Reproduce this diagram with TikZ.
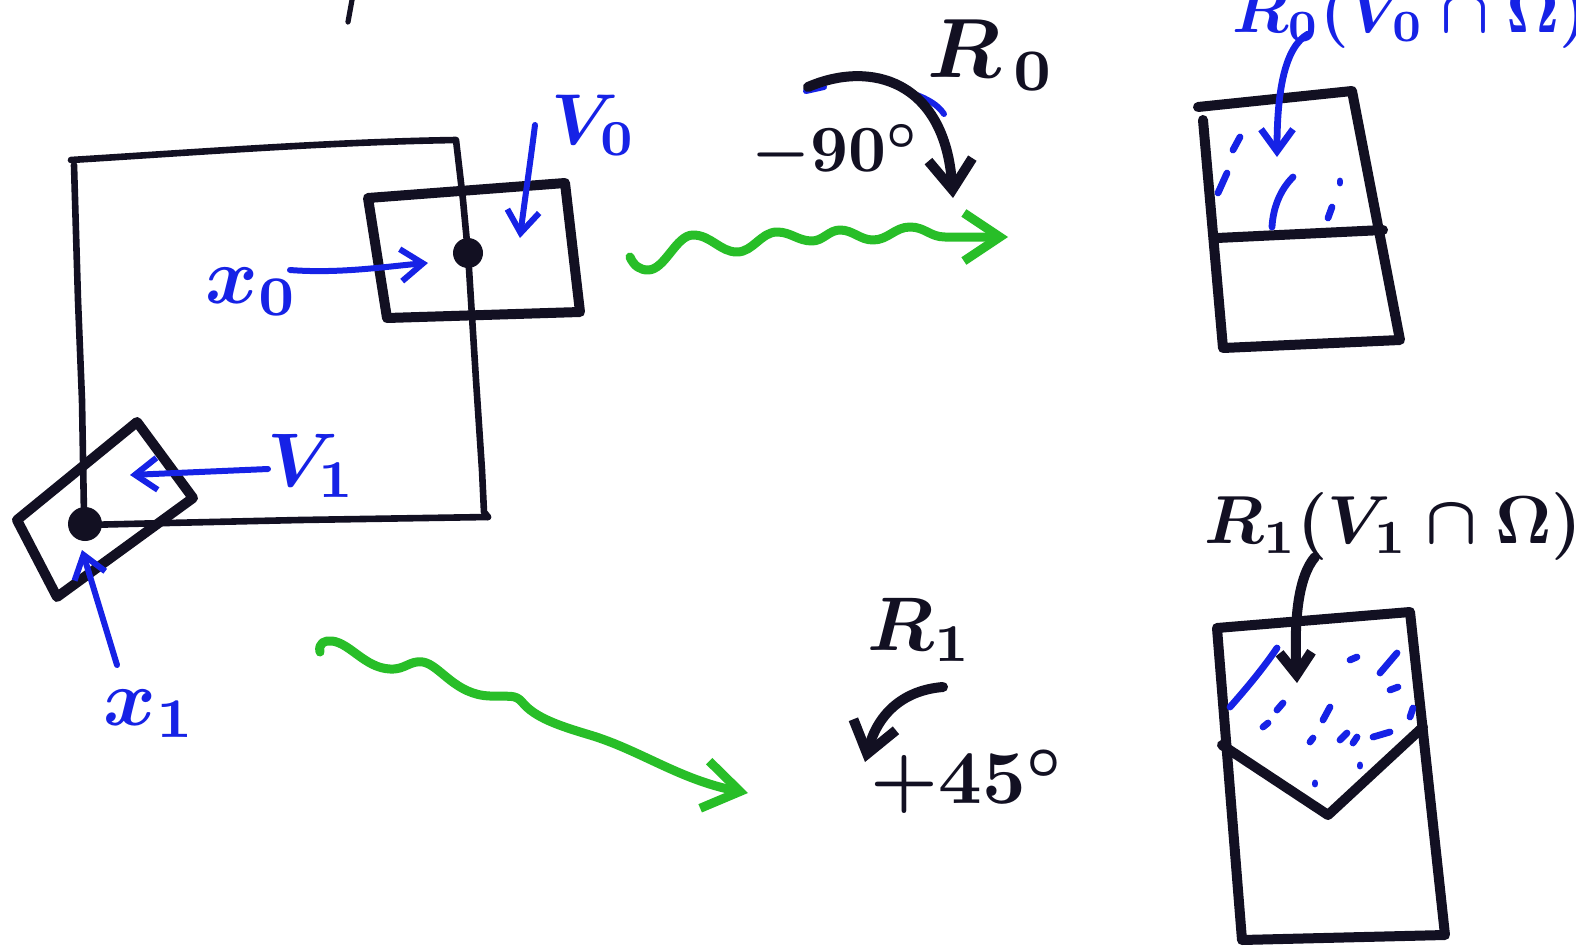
\documentclass[tikz,border=0pt]{standalone}
\usepackage{graphicx}
\usetikzlibrary{arrows.meta}
\definecolor{ink}{RGB}{18,16,34}
\definecolor{pen}{RGB}{22,34,230}
\definecolor{marker}{RGB}{40,190,40}
% hand lettering: bold math set at 10pt and enlarged
\newcommand\handmath[2]{\scalebox{#1}{\boldmath$#2$}}
\begin{document}
\begin{tikzpicture}[x=0.5pt,y=-0.5pt,line cap=round,line join=round,
  outline/.style={draw=ink,line width=3.3pt},
  boxpen/.style={draw=ink,line width=5pt},
  bluepen/.style={draw=pen,line width=3pt},
  greenpen/.style={draw=marker,line width=4.5pt},
  blacktip/.style={-{Straight Barb[length=15pt,width=22pt]}},
  bluetip/.style={-{Straight Barb[length=11pt,width=16pt]}},
  greentip/.style={-{Straight Barb[length=18pt,width=24pt]}},
  dot/.style={circle,fill=ink,inner sep=0pt},
  bluelab/.style={inner sep=0pt,text=pen},
  blacklab/.style={inner sep=0pt,text=ink},
  speck/.style={draw=pen,line width=3.4pt}]
\useasboundingbox (0,0) rectangle (1576,948);
\fill[white] (0,0) rectangle (1576,948);
\clip (0,0) rectangle (1576,948);

% stroke of a word cut off at the top edge
\draw[ink,line width=2.6pt] (352,0) -- (348,22);

% ---------------- domain Omega with the two windows ----------------
\draw[outline] (71,160) .. controls (200,152) and (330,142) .. (456,140)
  -- (463,200) -- (468,253) -- (476,380) -- (482,470) -- (484,512) -- (488,517);
\draw[outline] (488,517) -- (300,520) -- (167,523) -- (85,525);
\draw[outline] (74,165) -- (78,300) -- (82,400) -- (84,515);

% window V0
\draw[boxpen] (368,198) -- (565,183) -- (580,312) -- (387,318) -- cycle;
\node[dot,minimum size=15pt] (p0) at (468,253) {};

% window V1 (tilted)
\draw[boxpen] (17,520) -- (137,422) -- (193,498) -- (57,597) -- cycle;
\node[dot,minimum size=17pt] (p1) at (85,524) {};

% labels and pointers
\node[bluelab] (x0lab) at (252,292) {\handmath{4}{x_0}};
\coordinate (x0s) at (290,270);
\coordinate (x0e) at (428,263);
\draw[bluepen,bluetip] (x0s) .. controls (340,274) and (390,266) .. (x0e);

\node[bluelab] (v0lab) at (594,125) {\handmath{3.6}{V_0}};
\coordinate (v0s) at (535,125);
\coordinate (v0e) at (520,238);
\draw[bluepen,bluetip] (v0s) .. controls (530,165) and (524,205) .. (v0e);

\node[bluelab] (v1lab) at (312,466) {\handmath{3.8}{V_1}};
\coordinate (v1s) at (268,469);
\coordinate (v1e) at (130,475);
\draw[bluepen,bluetip] (v1s) -- (v1e);

\node[bluelab] (x1lab) at (150,714) {\handmath{4}{x_1}};
\coordinate (x1s) at (117,665);
\coordinate (x1e) at (82,550);
\draw[bluepen,bluetip] (x1s) -- (x1e);

% ---------------- the two maps ----------------
\coordinate (w0s) at (630,257);
\coordinate (w0e) at (1008,237);
\draw[greenpen,greentip] (w0s)
  .. controls (634,266) and (640,270) .. (648,270)
  .. controls (665,270) and (676,235) .. (693,235)
  .. controls (711,235) and (720,252) .. (737,252)
  .. controls (753,252) and (761,232) .. (777,232)
  .. controls (791,232) and (798,241) .. (812,241)
  .. controls (823,241) and (829,230) .. (840,230)
  .. controls (853,230) and (860,240) .. (873,240)
  .. controls (888,240) and (895,227) .. (910,227)
  .. controls (925,227) and (930,237) .. (945,237)
  -- (w0e);

\coordinate (w1s) at (320,652);
\coordinate (w1e) at (748,793);
\draw[greenpen,greentip] (w1s)
  .. controls (318,643) and (325,640) .. (332,641)
  .. controls (350,643) and (365,668) .. (390,669)
  .. controls (405,670) and (410,660) .. (423,662)
  .. controls (440,665) and (455,695) .. (490,696)
  .. controls (510,697) and (515,694) .. (522,702)
  .. controls (535,718) and (560,726) .. (590,735)
  .. controls (640,750) and (680,780) .. (w1e);

% rotation R0 : -90 degrees
\draw[pen,line width=3pt] (806,91) -- (824,87);
\draw[pen,line width=3pt] (914,94) .. controls (928,99) and (938,105) .. (944,114);
\coordinate (r0s) at (808,87);
\coordinate (r0e) at (953,198);
\draw[ink,line width=5pt,blacktip] (r0s) .. controls (870,60) and (945,80) .. (r0e);
\node[blacklab] (ang0) at (836,152) {\handmath{3.3}{-90^\circ}};
\node[blacklab] (rot0) at (992,55) {\handmath{4.2}{R_{\,0}}};

% rotation R1 : +45 degrees
\coordinate (r1s) at (943,687);
\coordinate (r1e) at (865,762);
\draw[ink,line width=5pt,blacktip] (r1s) .. controls (905,690) and (878,712) .. (r1e);
\node[blacklab] (rot1) at (920,630) {\handmath{3.8}{R_1}};
\node[blacklab] (ang1) at (968,782) {\handmath{3.8}{+45^\circ}};

% ---------------- image of V0 ----------------
\draw[boxpen] (1198,107) -- (1352,91) -- (1400,340) -- (1223,348) -- (1203,120);
\draw[boxpen] (1217,238) -- (1383,230);
\node[bluelab,anchor=base] (img0lab) at (1410,32) {\handmath{3.2}{R_0(V_0\cap\Omega)}};
\coordinate (i0s) at (1308,34);
\coordinate (i0e) at (1277,157);
\draw[bluepen,line width=3.4pt,bluetip] (i0s) .. controls (1285,47) and (1277,90) .. (i0e);
\draw[speck] (1240,137) -- (1233,150);
\draw[speck] (1227,173) -- (1218,193);
\draw[speck] (1293,177) .. controls (1280,190) and (1273,208) .. (1272,227);
\draw[speck] (1340,181) -- (1340,183);
\draw[speck] (1332,207) -- (1328,218);

% ---------------- image of V1 ----------------
\draw[boxpen] (1217,628) -- (1410,612) -- (1445,935) -- (1242,940) -- cycle;
\draw[boxpen] (1222,745) -- (1328,815) -- (1423,727);
\node[blacklab,anchor=base] (img1lab) at (1393,543) {\handmath{3.4}{R_1(V_1\cap\Omega)}};
\coordinate (i1s) at (1315,557);
\coordinate (i1e) at (1297,683);
\draw[ink,line width=5pt,-{Straight Barb[length=11pt,width=16pt]}] (i1s) .. controls (1298,577) and (1294,620) .. (i1e);
\draw[speck] (1277,648) .. controls (1262,670) and (1245,690) .. (1230,707);
\draw[speck] (1350,660) -- (1357,657);
\draw[speck] (1380,673) -- (1397,653);
\draw[speck] (1390,690) -- (1398,687);
\draw[speck] (1283,703) -- (1277,710);
\draw[speck] (1263,727) -- (1268,723);
\draw[speck] (1330,707) -- (1323,720);
\draw[speck] (1310,742) -- (1313,738);
\draw[speck] (1340,740) -- (1347,733);
\draw[speck] (1353,743) -- (1357,737);
\draw[speck] (1373,737) -- (1390,732);
\draw[speck] (1413,708) -- (1410,717);
\draw[speck] (1360,765) -- (1360,766);
\draw[speck] (1315,783) -- (1315,784);
\end{tikzpicture}
\end{document}
